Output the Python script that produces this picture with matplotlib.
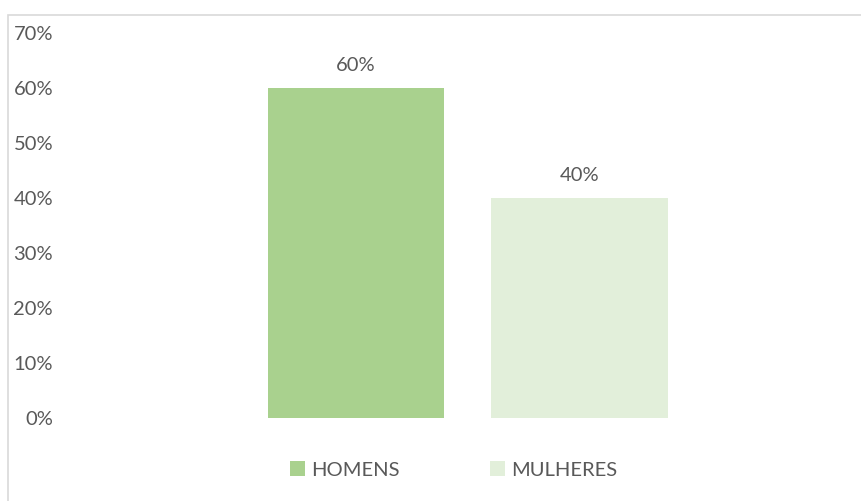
import matplotlib.pyplot as plt
from matplotlib.patches import Rectangle
from matplotlib.ticker import PercentFormatter

series = ["HOMENS", "MULHERES"]
values = [0.60, 0.40]
colors = ["#A9D18E", "#E2EFDA"]
yticks = [0, 0.1, 0.2, 0.3, 0.4, 0.5, 0.6, 0.7]

plt.rcParams['font.family'] = ['Lato', 'DejaVu Sans']
text_color = "#595959"

fig = plt.figure(figsize=(8.61, 5.01), dpi=100)
ax = fig.add_axes([0.0697, 0.1657, 0.9466, 0.7685])

bars = []
for i, (name, v, c) in enumerate(zip(series, values, colors)):
    b = ax.bar(i, v, width=0.7875, color=c, label=name)
    bars.append(b)
    ax.annotate("{:.0f}%".format(v * 100), (i, v), xytext=(0, 16.5), textcoords="offset points",
                ha="center", va="center", fontsize=14.5, color=text_color)

ax.set_xlim(-1.324, 2.322)
ax.set_ylim(0, 0.7)
ax.set_yticks(yticks)
ax.yaxis.set_major_formatter(PercentFormatter(1.0, decimals=0))
ax.set_xticks([])
ax.tick_params(axis="y", length=0, labelsize=14.5, labelcolor=text_color, pad=5)
for s in ax.spines.values():
    s.set_visible(False)

fig.legend(handles=[b[0] for b in bars], labels=series, loc="center", bbox_to_anchor=(0.527, 0.062),
           ncol=2, frameon=False, fontsize=14.5, labelcolor=text_color, handlelength=0.75, handleheight=0.75,
           handletextpad=0.3, columnspacing=4.5)

# chart border, clipped by the image edge on right and bottom
fig.patches.append(Rectangle((7.5 / 861, -0.1), 1.1, (501 - 14.5) / 501 + 0.1, transform=fig.transFigure,
                             fill=False, edgecolor="#D9D9D9", linewidth=1.2))

fig.savefig("out.png", dpi=100)
